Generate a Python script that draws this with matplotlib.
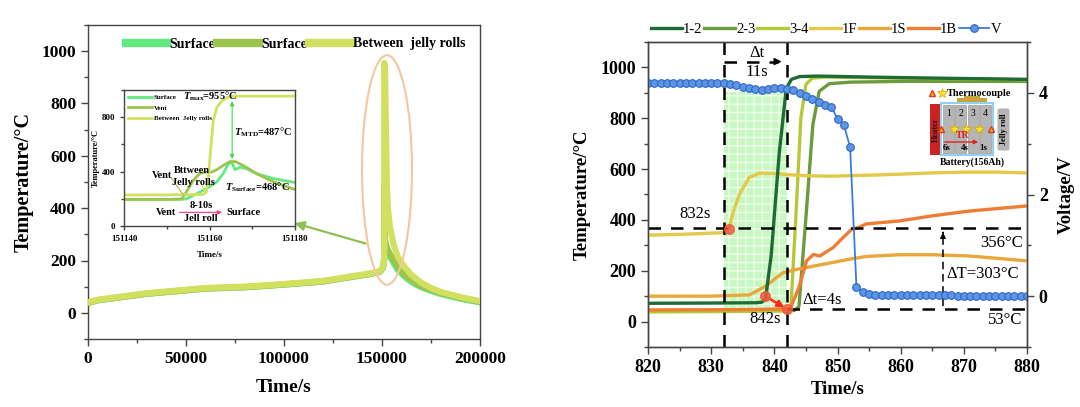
import numpy as np
import matplotlib
matplotlib.use('Agg')
import matplotlib.pyplot as plt
from matplotlib.patches import Ellipse, Rectangle, FancyBboxPatch
from matplotlib.ticker import MultipleLocator
from matplotlib.lines import Line2D

plt.rcParams['font.family'] = ['Liberation Serif', 'DejaVu Serif']
plt.rcParams['font.weight'] = 'bold'
plt.rcParams['axes.labelweight'] = 'bold'
plt.rcParams['mathtext.fontset'] = 'custom'
plt.rcParams['mathtext.rm'] = 'Liberation Serif:bold'
plt.rcParams['mathtext.it'] = 'Liberation Serif:italic:bold'
plt.rcParams['mathtext.bf'] = 'Liberation Serif:bold'

# ---------------- left panel data ----------------
t_main = [0, 5000, 15000, 30000, 50000, 60000, 80000, 100000, 120000, 135000,
          145000, 149000, 150500, 151000, 151150, 151165, 151500, 152000, 152500,
          153000, 154000, 156000, 158000, 161000, 165000, 170000, 175000, 180000,
          190000, 200000]
surf_main = [38, 48, 58, 73, 86, 93, 98, 108, 120, 138, 150, 158, 172, 195, 220, 468,
             270, 255, 245, 232, 215, 190, 165, 142, 118, 98, 84, 72, 54, 40]
vent_main = [38, 48, 58, 73, 86, 93, 98, 108, 120, 138, 150, 158, 172, 195, 230, 487,
             280, 262, 250, 240, 225, 200, 175, 150, 125, 102, 88, 76, 57, 42]
jelly_main = [40, 50, 60, 75, 88, 95, 100, 110, 122, 140, 152, 160, 175, 200, 240, 955,
              950, 700, 480, 400, 330, 260, 215, 180, 145, 115, 95, 80, 60, 45]

t_surf_in = [151140, 151150, 151154.6, 151157, 151159.3, 151161.7, 151163.2, 151164.4,
             151165.2, 151166, 151167.1, 151168.7, 151171, 151175, 151180]
surf_in = [195, 195, 198, 238, 275, 324, 385, 457, 468, 414, 433, 421, 385, 348, 320]
t_vent_in = [151140, 151150, 151153.5, 151154.6, 151156.2, 151157.7, 151158.9, 151160.5,
             151161.7, 151163.2, 151164.8, 151166, 151167.9, 151171, 151175, 151180]
vent_in = [195, 195, 198, 251, 336, 385, 397, 397, 414, 445, 474, 474, 445, 385, 324, 268]
t_jelly_in = [151140, 151150, 151158.5, 151159.3, 151159.7, 151160.3, 151160.9, 151161.7,
              151162.9, 151164.1, 151165.6, 151170, 151180]
jelly_in = [228, 229, 232, 251, 336, 579, 774, 871, 920, 944, 955, 955, 955]

# ---------------- right panel data ----------------
t_12 = [820, 830, 837, 838, 838.6, 839.5, 840.8, 841.9, 842.7, 844, 847, 855, 865, 880]
T_12 = [72, 73, 74, 76, 88, 260, 670, 918, 953, 964, 966, 962, 958, 953]
t_23 = [820, 835, 843.2, 843.9, 845, 846.1, 847.1, 848.7, 852, 860, 880]
T_23 = [40, 42, 44, 60, 409, 775, 906, 936, 942, 945, 945]
t_34 = [820, 835, 842, 842.6, 843.4, 844.2, 845, 846, 848, 860, 880]
T_34 = [38, 40, 42, 45, 409, 801, 933, 958, 962, 958, 952]
t_1F = [820, 826, 832, 832.8, 833.5, 834.5, 836, 837.6, 840, 842, 845, 849, 855, 860,
        865, 870, 875, 880]
T_1F = [340, 344, 350, 366, 430, 502, 566, 584, 583, 578, 574, 572, 576, 580, 585, 588,
        588, 585]
t_1S = [820, 830, 836.1, 838.7, 841.4, 843.9, 846.6, 849.3, 852, 854.5, 859.8, 865,
        870.9, 880]
T_1S = [100, 100, 105, 141, 193, 207, 220, 233, 246, 256, 263, 263, 258, 239]
t_1B = [820, 835, 842.5, 843.9, 845.1, 846.2, 847.2, 849.3, 850.9, 852.2, 853.5, 854.5,
        859.8, 865, 870.9, 880]
T_1B = [46, 47, 50, 134, 239, 264, 258, 291, 331, 362, 372, 384, 396, 416, 435, 455]
t_V = list(range(820, 881))
V = ([4.19] * 13 +
     [4.18, 4.16, 4.12, 4.10, 4.07, 4.05, 4.08, 4.09, 4.09, 4.07, 4.05, 3.99, 3.94,
      3.88, 3.81, 3.76, 3.73, 3.49, 3.37, 2.93, 0.18, 0.085, 0.05, 0.03] +
     [0.02] * 12 + [0.01] * 12)

c_surf, c_vent, c_jelly = '#62ea80', '#9cc54f', '#d2e060'
c12, c23, c34 = '#1f6b35', '#6a9b3c', '#b5c938'
c1F, c1S, c1B, cV = '#e3c94a', '#e8a93a', '#ef7d35', '#3c7bd9'

fig = plt.figure(figsize=(10.8, 4.07), dpi=100)


def style_axis(ax, size):
    for s in ax.spines.values():
        s.set_color('#444444')
        s.set_linewidth(1.0)
    ax.tick_params(which='both', direction='out', labelsize=size, color='#444444')
    ax.tick_params(which='major', length=5, width=1)
    ax.tick_params(which='minor', length=3, width=1)


# ================= left panel =================
ax1 = fig.add_axes([88 / 1080, 1 - 339 / 407, 392 / 1080, 314 / 407])
ax1.plot(t_main, surf_main, color=c_surf, lw=4.5, zorder=2)
ax1.plot(t_main, vent_main, color=c_vent, lw=4.5, zorder=3)
ax1.plot(t_main, jelly_main, color=c_jelly, lw=4.5, zorder=4)
ax1.set_xlim(0, 200000)
ax1.set_ylim(-100, 1100)
ax1.set_xticks([0, 50000, 100000, 150000, 200000])
ax1.xaxis.set_minor_locator(MultipleLocator(25000))
ax1.set_yticks([0, 200, 400, 600, 800, 1000])
ax1.yaxis.set_minor_locator(MultipleLocator(100))
style_axis(ax1, 12.5)
ax1.set_xlabel('Time/s', fontsize=14, labelpad=9)
ax1.set_ylabel('Temperature/°C', fontsize=14.5, labelpad=6)

ax1.add_patch(Ellipse((152550, 546), 25500, 877, fill=False, ec='#f4c79f', lw=1.5, zorder=5))
ax1.annotate('', xy=(104000, 346), xytext=(143000, 262),
             arrowprops=dict(arrowstyle='-|>', color='#8cc152', lw=1.6, mutation_scale=14))

h_main = [Line2D([], [], color=c, lw=6) for c in (c_surf, c_vent, c_jelly)]
ax1.legend(h_main, ['Surface', 'Surface', 'Between  jelly rolls'], ncol=3,
           loc='center left', bbox_to_anchor=(113 / 1080, 1 - 44 / 407),
           bbox_transform=fig.transFigure, frameon=False, fontsize=10,
           handlelength=3.0, handletextpad=0.15, columnspacing=0.15)

# inset
axi = fig.add_axes([124 / 1080, 1 - 226 / 407, 171 / 1080, 136 / 407])
axi.plot(t_surf_in, surf_in, color=c_surf, lw=2, label='Surface')
axi.plot(t_vent_in, vent_in, color=c_vent, lw=2, label='Vent')
axi.plot(t_jelly_in, jelly_in, color=c_jelly, lw=2, label='Between  Jelly rolls')
axi.set_xlim(151140, 151180)
axi.set_ylim(0, 1000)
axi.set_xticks([151140, 151160, 151180])
axi.xaxis.set_minor_locator(MultipleLocator(10))
axi.set_yticks([0, 400, 800])
axi.yaxis.set_minor_locator(MultipleLocator(200))
style_axis(axi, 6.5)
axi.tick_params(which='major', length=3)
axi.tick_params(which='minor', length=2)
axi.ticklabel_format(useOffset=False, style='plain')
axi.set_xlabel('Time/s', fontsize=6.5, labelpad=6)
axi.set_ylabel('Temperature/°C', fontsize=6, labelpad=1)
axi.legend(loc='upper left', fontsize=5, frameon=False, handlelength=3.4,
           handletextpad=0.3, labelspacing=0.7, borderaxespad=0.2)
axi.text(151166.5, 952, r'$T_{\rm max}$=955°C', fontsize=7.5, ha='right', va='center')
axi.annotate('', xy=(151165.3, 938), xytext=(151165.3, 472),
             arrowprops=dict(arrowstyle='<|-|>', color='#3ddc3d', lw=0.8, mutation_scale=6))
axi.text(151165.8, 690, r'$T_{\rm MTD}$=487°C', fontsize=7.5, ha='left', va='center')
axi.text(151163.6, 287, r'$T_{\rm Surface}$=468°C', fontsize=7.5, ha='left', va='center')
axi.text(151148.9, 372, 'Vent', fontsize=7.5, ha='center', va='center')
axi.plot([151151.0, 151154.0], [355, 225], color=c_vent, lw=0.8)
axi.text(151155.8, 409, 'Bttween', fontsize=7.5, ha='center', va='center')
axi.text(151156.3, 323, 'Jelly rolls', fontsize=7.5, ha='center', va='center')
axi.plot([151158.2, 151159.2], [300, 240], color=c_jelly, lw=0.8)
axi.annotate('', xy=(151163.6, 100), xytext=(151152.4, 100),
             arrowprops=dict(arrowstyle='-|>', color='#ff3d8b', lw=0.9, mutation_scale=6))
axi.text(151158, 150, '8-10s', fontsize=7.5, ha='center', va='center')
axi.text(151158, 58, 'Jell roll', fontsize=7.5, ha='center', va='center')
axi.text(151152.2, 100, 'Vent', fontsize=7.5, ha='right', va='center')
axi.text(151163.9, 100, 'Surface', fontsize=7.5, ha='left', va='center')

# ================= right panel =================
ax2 = fig.add_axes([648 / 1080, 1 - 347 / 407, 379 / 1080, 305 / 407])
ax2.fill_between([832, 842], [40, 40], [905, 905], facecolor='#c8f8c1', edgecolor='#effdec',
                 hatch='++', lw=0, zorder=1)
l12, = ax2.plot(t_12, T_12, color=c12, lw=2.4, zorder=4, label='1-2')
l23, = ax2.plot(t_23, T_23, color=c23, lw=2.4, zorder=3, label='2-3')
l34, = ax2.plot(t_34, T_34, color=c34, lw=2.4, zorder=3, label='3-4')
l1F, = ax2.plot(t_1F, T_1F, color=c1F, lw=2.4, zorder=3, label='1F')
l1S, = ax2.plot(t_1S, T_1S, color=c1S, lw=2.4, zorder=3, label='1S')
l1B, = ax2.plot(t_1B, T_1B, color=c1B, lw=2.4, zorder=3, label='1B')
ax2.set_xlim(820, 880)
ax2.set_ylim(-100, 1100)
ax2.set_xticks(range(820, 881, 10))
ax2.xaxis.set_minor_locator(MultipleLocator(5))
ax2.set_yticks([0, 200, 400, 600, 800, 1000])
ax2.yaxis.set_minor_locator(MultipleLocator(100))
style_axis(ax2, 13)
ax2.set_xlabel('Time/s', fontsize=13.5, labelpad=4)
ax2.set_ylabel('Temperature/°C', fontsize=13.5, labelpad=7)

axv = ax2.twinx()
lV, = axv.plot(t_V, V, color=cV, lw=1.3, marker='o', ms=5.5, mfc='#5d95e6', mec='#2d66c4',
               mew=0.8, label='V')
axv.set_ylim(-1, 5)
axv.set_yticks([0, 2, 4])
axv.yaxis.set_minor_locator(MultipleLocator(1))
style_axis(axv, 13)
axv.set_ylabel('Voltage/V', fontsize=13.5, labelpad=7)

dash = dict(color='black', lw=1.8, ls=(0, (5, 4)), zorder=6)
ax2.axvline(832, **dash)
ax2.axvline(842, **dash)
ax2.plot([820, 880], [367, 367], **dash)
ax2.plot([842, 880], [50, 50], **dash)
ax2.plot([832, 840.6], [1023, 1023], **dash)
ax2.annotate('', xy=(841.6, 1023), xytext=(839.8, 1023),
             arrowprops=dict(arrowstyle='-|>', color='black', lw=1.2, mutation_scale=10),
             zorder=6)
ax2.text(837.2, 1055, 'Δt', fontsize=12, fontweight='normal', ha='center', va='center')
ax2.text(837.2, 980, '11s', fontsize=12, fontweight='normal', ha='center', va='center')

ax2.plot([866.7, 866.7], [60, 350], color='black', lw=1.1, ls=(0, (5, 3)), zorder=6)
ax2.annotate('', xy=(866.7, 362), xytext=(866.7, 340),
             arrowprops=dict(arrowstyle='-|>', color='black', lw=1.0, mutation_scale=8))
ax2.text(867.3, 188, 'ΔT=303°C', fontsize=12, fontweight='normal', ha='left', va='center')
ax2.text(879.3, 310, '356°C', fontsize=12, fontweight='normal', ha='right', va='center')
ax2.text(879.3, 8, '53°C', fontsize=12, fontweight='normal', ha='right', va='center')
ax2.text(827.4, 423, '832s', fontsize=12, fontweight='normal', ha='center', va='center')
ax2.text(838.5, 12, '842s', fontsize=12, fontweight='normal', ha='center', va='center')
ax2.text(847.6, 86, 'Δt=4s', fontsize=12, fontweight='normal', ha='center', va='center')

ax2.annotate('', xy=(842.0, 50), xytext=(838.6, 99),
             arrowprops=dict(arrowstyle='-|>', color='#ff2a1a', lw=1.8, mutation_scale=10),
             zorder=7)
ax2.plot([832.8, 838.6, 842.0], [366, 99, 50], ls='none', marker='o', ms=7,
         color='#f05a3c', alpha=0.85, zorder=8)

ax2.legend([l12, l23, l34, l1F, l1S, l1B, lV], ['1-2', '2-3', '3-4', '1F', '1S', '1B', 'V'],
           ncol=7, loc='center left', bbox_to_anchor=(638 / 1080, 1 - 29 / 407),
           bbox_transform=fig.transFigure, frameon=False,
           prop={'size': 10.5, 'weight': 'normal'}, handlelength=2.1,
           handletextpad=0.1, columnspacing=0.1)

# battery schematic
sch = fig.add_axes([925 / 1080, 1 - 170 / 407, 100 / 1080, 86 / 407])
sch.set_xlim(925, 1025)
sch.set_ylim(170, 84)
sch.axis('off')
sch.plot(932, 93, marker='^', ms=5, color='#f5b324', mec='#e8341c')
sch.plot(942, 93, marker='*', ms=7, color='#ffe033', mec='#d4a800', mew=0.5)
sch.text(947, 93, 'Thermocouple', fontsize=7.5, ha='left', va='center')
sch.add_patch(Rectangle((957, 98), 30, 5, fc='#c9a23a', ec='none'))
sch.add_patch(Rectangle((964, 95.5), 16, 3, fc='#c9a23a', ec='none'))
sch.add_patch(Rectangle((930, 104), 11, 51, fc='#cc2222', ec='none'))
sch.text(935.5, 129.5, 'Heater', fontsize=6, rotation=90, ha='center', va='center',
         color='#1a1a1a')
for i in range(4):
    sch.add_patch(Rectangle((943 + i * 12.3, 105), 11, 48, fc='#b5b5b5', ec='#9a9a9a', lw=0.5))
    sch.text(948.5 + i * 12.3, 114, str(i + 1), fontsize=7, fontweight='normal',
             ha='center', va='center')
sch.add_patch(Rectangle((941, 103), 52, 52, fill=False, ec='#8fd0f5', lw=1.5))
sch.plot([941, 991], [129, 129], ls='none', marker='^', ms=5, color='#f5b324', mec='#e8341c')
sch.plot([954, 966, 979], [129, 129, 129], ls='none', marker='*', ms=7, color='#ffe033',
         mec='#d4a800', mew=0.5)
sch.annotate('', xy=(981, 142), xytext=(942, 142),
             arrowprops=dict(arrowstyle='-|>', color='#e02020', lw=1.0, mutation_scale=6))
sch.text(963, 135, 'TR', fontsize=7, color='#e02020', ha='center', va='center')
for x, s in ((947, '6s'), (965, '4s'), (983, '1s')):
    sch.text(x, 148, s, fontsize=6.5, ha='center', va='center')
sch.add_patch(FancyBboxPatch((998, 109), 11, 41, boxstyle='round,pad=0.5,rounding_size=2',
                             fc='#b5b5b5', ec='none'))
sch.text(1003.5, 129.5, 'Jelly roll', fontsize=6, rotation=90, ha='center', va='center')
sch.text(972, 162, 'Battery(156Ah)', fontsize=7, ha='center', va='center')

fig.savefig('out.png', dpi=100)
